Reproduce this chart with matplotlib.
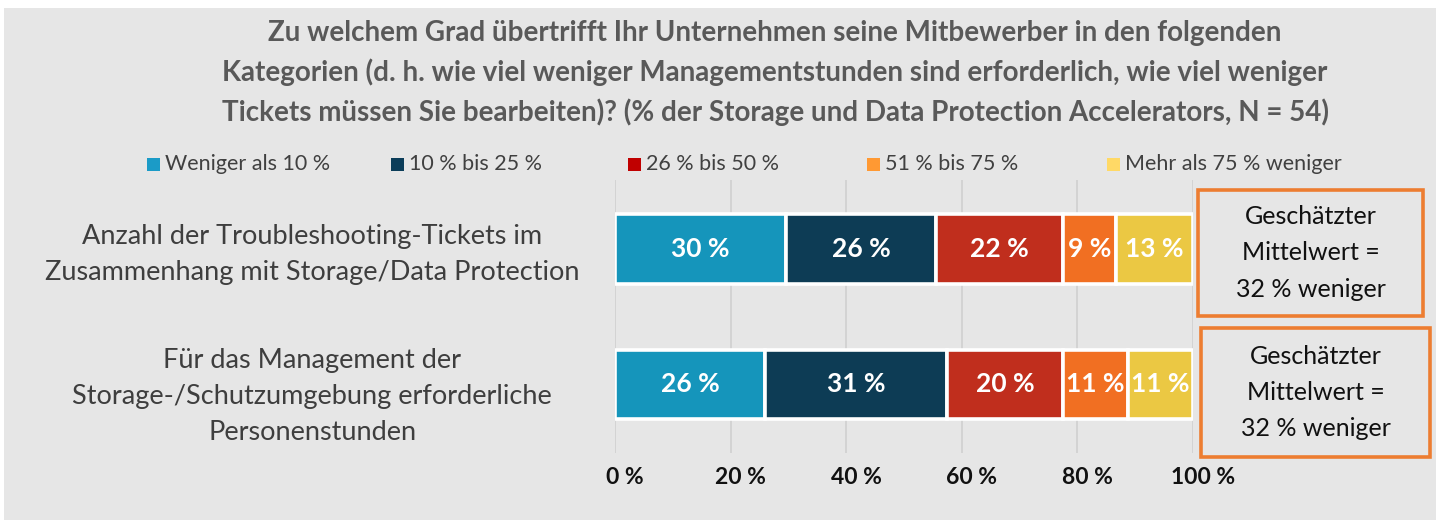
import matplotlib
matplotlib.use("Agg")
import matplotlib.pyplot as plt
from matplotlib.patches import Rectangle
from matplotlib.transforms import ScaledTranslation
import numpy as np

plt.rcParams['font.family'] = ['Lato', 'DejaVu Sans']

# data (segment widths; labels are the rounded shares)
categories = ['Anzahl der Troubleshooting-Tickets im\nZusammenhang mit Storage/Data Protection',
              'Für das Management der\nStorage-/Schutzumgebung erforderliche\nPersonenstunden']
series = ['Weniger als 10 %', '10 % bis 25 %', '26 % bis 50 %', '51 % bis 75 %', 'Mehr als 75 % weniger']
values = np.array([[29.6, 25.9, 22.0, 9.2, 13.3],
                   [26.0, 31.4, 20.1, 11.2, 11.3]])
ticks = [0, 20, 40, 60, 80, 100]
tick_labels = ['0 %', '20 %', '40 %', '60 %', '80 %', '100 %']
mean_text = ['Geschätzter\nMittelwert =\n32 % weniger', 'Geschätzter\nMittelwert =\n32 % weniger']

bar_colors = ['#1595bb', '#0d3c55', '#c02e1d', '#f16f22', '#ebc843']
legend_colors = ['#1b9bc7', '#0b3d59', '#c00000', '#ff9933', '#ffd966']

W, H = 1439, 520
def fx(x): return x / W
def fy(y): return 1 - y / H

fig = plt.figure(figsize=(W / 100, H / 100), dpi=100, facecolor='white')
# grey panel as a background axes
bg = fig.add_axes([fx(4), 0, fx(1432), 512 / H], zorder=0)
bg.set_facecolor('#e6e6e6')
bg.set_xticks([]); bg.set_yticks([])
for s in bg.spines.values():
    s.set_visible(False)

ax = fig.add_axes([fx(615), fy(453), fx(1193) - fx(615), (453 - 180) / H], zorder=2)
ax.set_facecolor('none')

y = np.arange(len(categories))
left = np.zeros(len(categories))
for j, name in enumerate(series):
    bars = ax.barh(y, values[:, j], left=left, height=0.51, color=bar_colors[j],
                   edgecolor='white', linewidth=2.6, zorder=3)
    for i, b in enumerate(bars):
        ax.text(left[i] + values[i, j] / 2, y[i], f'{round(values[i, j])} %', ha='center', va='center',
                color='white', fontsize=19, fontweight='bold', zorder=4)
    left += values[:, j]

ax.set_xlim(0, 100)
ax.set_ylim(1.506, -0.509)
ax.set_xticks(ticks)
ax.set_xticklabels(tick_labels, fontsize=16.5, fontweight='bold', color='#111111')
ax.set_yticks([])
ax.tick_params(axis='x', length=0, pad=10)
shift = ScaledTranslation(10 / 100, 0, fig.dpi_scale_trans)
for lbl in ax.get_xticklabels():
    lbl.set_transform(lbl.get_transform() + shift)
ax.grid(axis='x', color='#d2d2d2', linewidth=1.3, zorder=0)
for s in ax.spines.values():
    s.set_visible(False)

# category labels
offsets = [0.04, 0.09]
for i, cat in enumerate(categories):
    ax.text(-0.524, y[i] + offsets[i], cat, transform=ax.get_yaxis_transform(),
            ha='center', va='center', multialignment='center', fontsize=19.5,
            color='#3e3e3e', linespacing=1.55, clip_on=False)

# title
fig.text(fx(775), fy(73), 'Zu welchem Grad übertrifft Ihr Unternehmen seine Mitbewerber in den folgenden\n'
         'Kategorien (d. h. wie viel weniger Managementstunden sind erforderlich, wie viel weniger\n'
         'Tickets müssen Sie bearbeiten)? (% der Storage und Data Protection Accelerators, N = 54)',
         ha='center', va='center', fontsize=20, fontweight='bold', color='#595959', linespacing=1.55)

# legend
leg_x = [147, 391, 628, 867, 1107]
for j, name in enumerate(series):
    fig.patches.append(Rectangle((fx(leg_x[j]), fy(171)), 13 / W, 13 / H, transform=fig.transFigure,
                                 facecolor=legend_colors[j], edgecolor='none', zorder=3))
    fig.text(fx(leg_x[j] + 18), fy(164), name, ha='left', va='center', fontsize=15.5,
             color='#404040')

# mean boxes
boxes = [(1198, 190, 1423, 316), (1201, 328, 1430, 457)]
for (x0, y0, x1, y1), txt in zip(boxes, mean_text):
    fig.patches.append(Rectangle((fx(x0), fy(y1)), fx(x1 - x0), (y1 - y0) / H, transform=fig.transFigure,
                                 facecolor='none', edgecolor='#ed7d31', linewidth=2.6, zorder=3))
    fig.text(fx((x0 + x1) / 2), fy((y0 + y1) / 2), txt, ha='center', va='center', fontsize=18,
             color='#111111', linespacing=1.7)

fig.savefig('out.png', dpi=100, facecolor=fig.get_facecolor())
